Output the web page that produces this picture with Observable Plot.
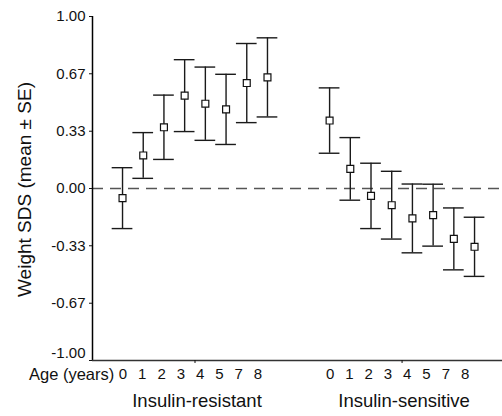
<!DOCTYPE html>
<html>
<head>
<meta charset="utf-8">
<script src="https://cdn.jsdelivr.net/npm/d3@7"></script>
<script src="https://cdn.jsdelivr.net/npm/@observablehq/plot@0.6"></script>
<style>
  html, body { margin: 0; padding: 0; background: #fff; }
  #chart svg { display: block; }
</style>
</head>
<body>
<div id="chart"></div>
<script>
// ---- data ----
const ages = ["0", "1", "2", "3", "4", "5", "7", "8"];
const groups = ["Insulin-resistant", "Insulin-sensitive"];
const resistantMean = [-0.056, 0.192, 0.356, 0.540, 0.493, 0.460, 0.613, 0.646];
const resistantSE   = [0.177, 0.133, 0.187, 0.209, 0.213, 0.204, 0.230, 0.230];
const sensitiveMean = [0.395, 0.114, -0.043, -0.097, -0.174, -0.155, -0.293, -0.339];
const sensitiveSE   = [0.190, 0.182, 0.190, 0.197, 0.200, 0.180, 0.180, 0.172];
const yTickValues = [-1, -0.667, -0.333, 0, 0.333, 0.667, 1];
const yTickLabels = ["-1.00", "-0.67", "-0.33", "0.00", "0.33", "0.67", "1.00"];
const yTitle = "Weight SDS (mean \u00b1 SE)";
const xTitle = "Age (years)";

// ---- layout ----
const groupGap = 10;           // slot offset between groups
const xDomain = [-1.45, 18.35];
const yDomain = [-1, 1];
const labelStep = 0.9316;      // tick labels are slightly tighter than points
const labelShift = -0.217;
const groupCenter = gi => gi * groupGap + (ages.length - 1) / 2;
const labelX = (gi, j) => groupCenter(gi) + (j - (ages.length - 1) / 2) * labelStep + labelShift;

const rows = groups.flatMap((g, gi) => ages.map((a, j) => {
  const m = gi === 0 ? resistantMean[j] : sensitiveMean[j];
  const se = gi === 0 ? resistantSE[j] : sensitiveSE[j];
  return {group: g, gi, j, age: a, slot: gi * groupGap + j, mean: m, lo: m - se, hi: m + se};
}));
const yTicks = yTickValues.map((v, i) => ({v, label: yTickLabels[i]}));

const ink = "#111";
const barInk = "#1a1a1a";

const chart = Plot.plot({
  width: 502,
  height: 416,
  marginLeft: 92,
  marginRight: 0,
  marginTop: 16,
  marginBottom: 56,
  style: {fontFamily: "'Liberation Sans', Arial, Helvetica, sans-serif", fontSize: "15px", background: "#fff", color: ink},
  x: {domain: xDomain},
  y: {domain: yDomain},
  marks: [
    // zero reference line
    Plot.ruleY([0], {stroke: "#555", strokeWidth: 1.3, strokeDasharray: "11,7"}),
    // axis lines
    Plot.ruleX([xDomain[0]], {y1: yDomain[0], y2: yDomain[1], stroke: "#000", strokeWidth: 1.5}),
    Plot.ruleY([yDomain[0]], {stroke: "#333", strokeWidth: 1.3}),
    // y axis ticks
    Plot.axisY(yTickValues, {tickSize: 3, tickFormat: () => "", label: null}),
    // y tick labels (the bottom one sits a little above its tick, as in the reference)
    Plot.text(yTicks.filter(d => d.v !== yDomain[0]), {y: "v", text: "label", frameAnchor: "left", textAnchor: "end", lineAnchor: "middle", dx: -7, fontSize: 15, fill: ink}),
    Plot.text(yTicks.filter(d => d.v === yDomain[0]), {y: "v", text: "label", frameAnchor: "left", textAnchor: "end", lineAnchor: "middle", dx: -7, dy: -7, fontSize: 15, fill: ink}),
    // x axis ticks at group centres
    Plot.axisX(groups.map((g, gi) => groupCenter(gi)), {tickSize: 3, tickFormat: () => "", label: null}),
    // error bars
    Plot.ruleX(rows, {x: "slot", y1: "lo", y2: "hi", stroke: barInk, strokeWidth: 1.4}),
    Plot.ruleY(rows, {y: "hi", x1: d => d.slot - 0.5, x2: d => d.slot + 0.5, stroke: barInk, strokeWidth: 1.4}),
    Plot.ruleY(rows, {y: "lo", x1: d => d.slot - 0.5, x2: d => d.slot + 0.5, stroke: barInk, strokeWidth: 1.4}),
    // means
    Plot.dot(rows, {x: "slot", y: "mean", symbol: "square", r: 3.9, fill: "#fff", stroke: ink, strokeWidth: 1.2}),
    // age tick labels
    Plot.text(rows, {x: d => labelX(d.gi, d.j), text: "age", frameAnchor: "bottom", lineAnchor: "middle", dy: 14, fontSize: 15, fill: ink}),
    // "Age (years)"
    Plot.text([xTitle], {x: labelX(0, 0) - 0.42, frameAnchor: "bottom", textAnchor: "end", lineAnchor: "middle", dy: 14, fontSize: 16.5, fill: ink}),
    // group labels
    Plot.text(groups, {x: (d, i) => groupCenter(i), text: d => d, frameAnchor: "bottom", lineAnchor: "middle", dy: 41, dx: 2, fontSize: 18.5, fill: ink}),
    // y title
    Plot.text([yTitle], {frameAnchor: "left", textAnchor: "middle", rotate: -90, lineAnchor: "middle", dx: -68, dy: 1, fontSize: 19, fill: ink})
  ]
});
document.getElementById("chart").appendChild(chart);
</script>
</body>
</html>
